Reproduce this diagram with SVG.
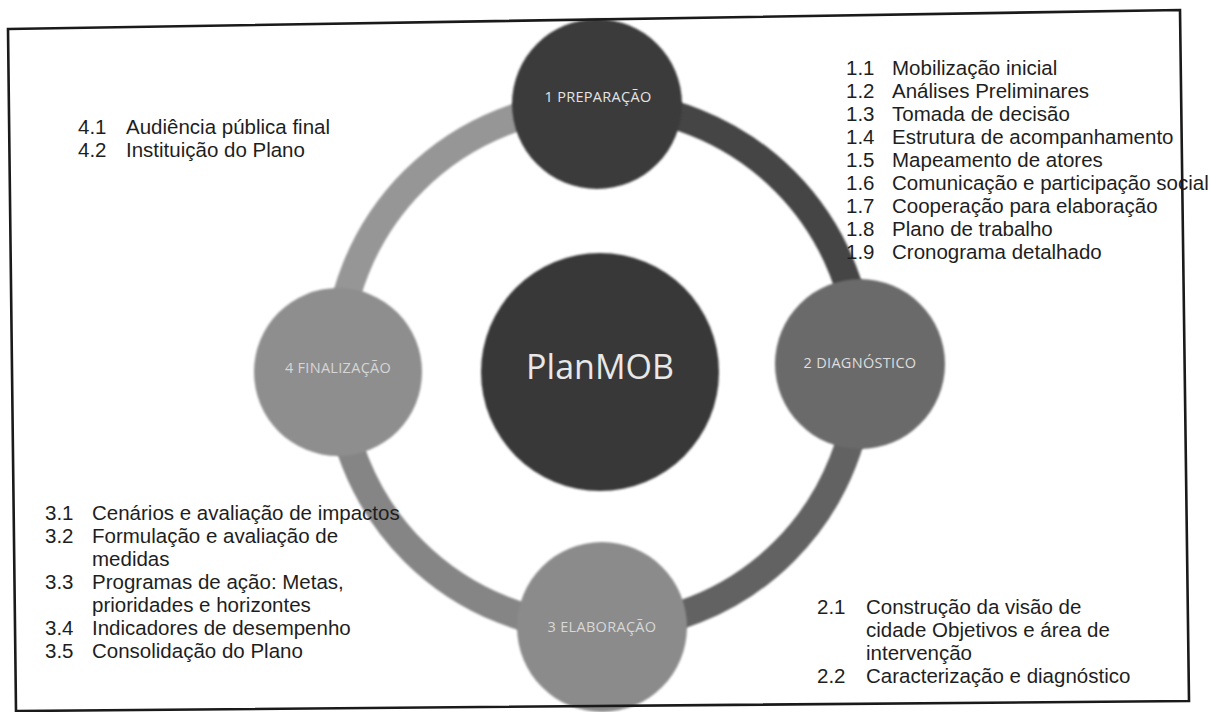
<svg xmlns="http://www.w3.org/2000/svg" width="1210" height="712" viewBox="0 0 1210 712">
  <defs>
    <filter id="soft" x="-10%" y="-10%" width="120%" height="120%">
      <feGaussianBlur stdDeviation="1.2"/>
    </filter>
    <style>
      .arc { fill: none; stroke-width: 28; }
      .list { font-family: "Liberation Sans", Arial, sans-serif; font-size: 20.5px; fill: #1e1e1e; }
      .phase { font-family: "Open Sans", "Liberation Sans", sans-serif; font-size: 14.5px; text-anchor: middle; letter-spacing: 0.3px; }
      .frame { fill: none; stroke: #1a1a1a; stroke-width: 2.6; stroke-linejoin: miter; }
    </style>
  </defs>
  <rect width="1210" height="712" fill="#ffffff"/>

  <!-- cycle ring, one arc per phase transition -->
  <g id="connectors" filter="url(#soft)">
    <path class="arc" stroke="#454545" d="M599,104 A262,262 0 0 1 861,366"/>
    <path class="arc" stroke="#626262" d="M861,366 A262,262 0 0 1 599,628"/>
    <path class="arc" stroke="#858585" d="M599,628 A262,262 0 0 1 337,366"/>
    <path class="arc" stroke="#969696" d="M337,366 A262,262 0 0 1 599,104"/>
  </g>

  <g id="center" filter="url(#soft)">
    <circle cx="600" cy="372" r="119" fill="#393939"/>
  </g>
  <text x="600" y="379" text-anchor="middle" font-family="'Open Sans', 'Liberation Sans', sans-serif" font-size="34" fill="#e8e8e8">PlanMOB</text>

  <g id="node-1">
    <circle cx="597" cy="104" r="85" fill="#3b3b3b" filter="url(#soft)"/>
    <text class="phase" x="598" y="102" fill="#e4e4e4">1 PREPARAÇÃO</text>
  </g>
  <g id="node-2">
    <circle cx="860" cy="364" r="85" fill="#6a6a6a" filter="url(#soft)"/>
    <text class="phase" x="860" y="368" fill="#dedede">2 DIAGNÓSTICO</text>
  </g>
  <g id="node-3">
    <circle cx="602" cy="627" r="85" fill="#8b8b8b" filter="url(#soft)"/>
    <text class="phase" x="602" y="632" fill="#d8d8d8">3 ELABORAÇÃO</text>
  </g>
  <g id="node-4">
    <circle cx="338" cy="372" r="84" fill="#8e8e8e" filter="url(#soft)"/>
    <text class="phase" x="338" y="373" fill="#d6d6d6">4 FINALIZAÇÃO</text>
  </g>

  <!-- step lists -->
  <g id="list-1" class="list">
    <text x="846" y="75">1.1</text><text x="892" y="75">Mobilização inicial</text>
    <text x="846" y="98">1.2</text><text x="892" y="98">Análises Preliminares</text>
    <text x="846" y="121">1.3</text><text x="892" y="121">Tomada de decisão</text>
    <text x="846" y="144">1.4</text><text x="892" y="144">Estrutura de acompanhamento</text>
    <text x="846" y="167">1.5</text><text x="892" y="167">Mapeamento de atores</text>
    <text x="846" y="190">1.6</text><text x="892" y="190">Comunicação e participação social</text>
    <text x="846" y="213">1.7</text><text x="892" y="213">Cooperação para elaboração</text>
    <text x="846" y="236">1.8</text><text x="892" y="236">Plano de trabalho</text>
    <text x="846" y="259">1.9</text><text x="892" y="259">Cronograma detalhado</text>
  </g>

  <g id="list-4" class="list">
    <text x="78" y="134">4.1</text><text x="126" y="134">Audiência pública final</text>
    <text x="78" y="157">4.2</text><text x="126" y="157">Instituição do Plano</text>
  </g>

  <g id="list-3" class="list">
    <text x="45" y="520">3.1</text><text x="92" y="520">Cenários e avaliação de impactos</text>
    <text x="45" y="543">3.2</text><text x="92" y="543">Formulação e avaliação de</text>
    <text x="92" y="566">medidas</text>
    <text x="45" y="589">3.3</text><text x="92" y="589">Programas de ação: Metas,</text>
    <text x="92" y="612">prioridades e horizontes</text>
    <text x="45" y="635">3.4</text><text x="92" y="635">Indicadores de desempenho</text>
    <text x="45" y="658">3.5</text><text x="92" y="658">Consolidação do Plano</text>
  </g>

  <g id="list-2" class="list">
    <text x="817" y="614">2.1</text><text x="866" y="614">Construção da visão de</text>
    <text x="866" y="637">cidade Objetivos e área de</text>
    <text x="866" y="660">intervenção</text>
    <text x="817" y="683">2.2</text><text x="866" y="683">Caracterização e diagnóstico</text>
  </g>

  <!-- page frame -->
  <polygon id="frame" class="frame" points="8,29 1180,10 1189,701 16,711"/>
</svg>
